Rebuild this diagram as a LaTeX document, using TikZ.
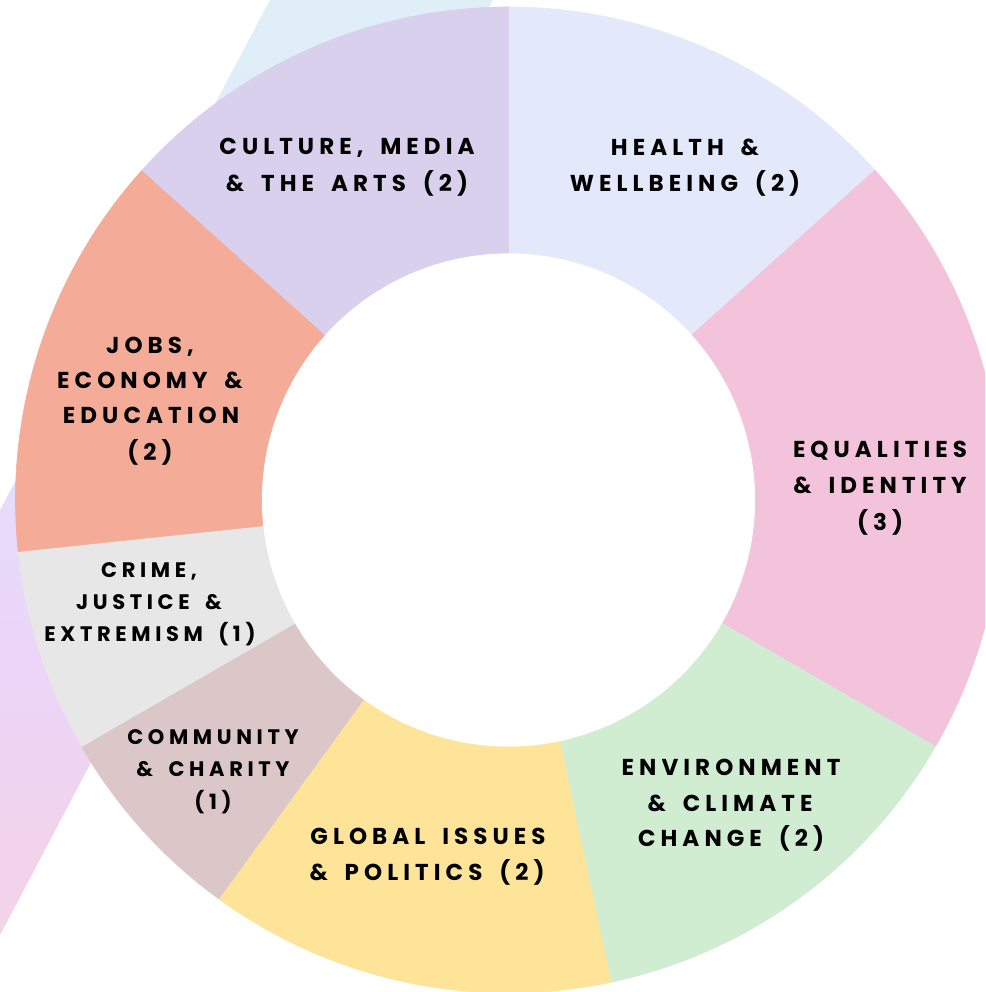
\documentclass[tikz,border=0pt]{standalone}
\usepackage{fontspec}
\newfontfamily\labfont[LetterSpace=22,WordSpace=1.7]{Poppins}
\usetikzlibrary{calc}
\definecolor{cCulture}{RGB}{217,208,238}
\definecolor{cHealth}{RGB}{227,233,251}
\definecolor{cEqual}{RGB}{243,195,219}
\definecolor{cEnv}{RGB}{208,236,209}
\definecolor{cGlobal}{RGB}{254,228,153}
\definecolor{cComm}{RGB}{220,199,200}
\definecolor{cCrime}{RGB}{231,231,231}
\definecolor{cJobs}{RGB}{244,171,152}
\definecolor{bandBlue}{RGB}{224,238,248}
\definecolor{bandBlueLav}{RGB}{230,221,250}
\definecolor{bandLav}{RGB}{236,213,248}
\definecolor{bandPink}{RGB}{242,211,234}
\pgfdeclareverticalshading{bandshade}{100bp}{color(0bp)=(bandPink); color(30bp)=(bandPink); color(42bp)=(bandLav); color(51bp)=(bandBlueLav); color(72bp)=(bandBlue); color(100bp)=(bandBlue)}
\newcommand\ringseg[3]{\fill[#1,draw=#1,line width=0.6pt] ($(ctr)+(#2:493)$) arc[start angle=#2,end angle=#3,radius=493] -- ($(ctr)+(#3:247)$) arc[start angle=#3,end angle=#2,radius=247] -- cycle;}
\begin{document}
\begin{tikzpicture}[x=1pt,y=1pt,
  biglab/.style={font=\labfont\bfseries\fontsize{23}{23}\selectfont, anchor=base, inner sep=0pt, text=black},
  smalllab/.style={font=\labfont\bfseries\fontsize{21}{21}\selectfont, anchor=base, inner sep=0pt, text=black}]
\useasboundingbox (0,0) rectangle (985,992);
\clip (0,0) rectangle (985,992);
\fill[white] (0,0) rectangle (985,992);
\coordinate (ctr) at (508.5,492);
% diagonal background band
\shade[shading=bandshade]
  (270,992) -- (493,992) -- (-30,0) -- (-255,0) -- cycle;
% ring segments
\ringseg{cHealth}{42}{90}
\ringseg{cEqual}{-30}{42}
\ringseg{cEnv}{-78}{-30}
\ringseg{cGlobal}{-126}{-78}
\ringseg{cComm}{-150}{-126}
\ringseg{cCrime}{-174}{-150}
\ringseg{cJobs}{-222}{-174}
\ringseg{cCulture}{90}{138}
% labels (baseline = 992 - (centre + 9))
\node[biglab] (cul1) at (347,837) {CULTURE, MEDIA};
\node[biglab] (cul2) at (347,800) {\& THE ARTS (2)};
\node[biglab] (hea1) at (685,836) {HEALTH \&};
\node[biglab] (hea2) at (685,800) {WELLBEING (2)};
\node[biglab] (job1) at (150,638) {JOBS,};
\node[biglab] (job2) at (150,603) {ECONOMY \&};
\node[biglab] (job3) at (151,568) {EDUCATION};
\node[biglab] (job4) at (150,531) {(2)};
\node[biglab] (equ1) at (880,534) {EQUALITIES};
\node[biglab] (equ2) at (880,498) {\& IDENTITY};
\node[biglab] (equ3) at (880,461) {(3)};
\node[smalllab] (cri1) at (149,414) {CRIME,};
\node[smalllab] (cri2) at (149,382) {JUSTICE \&};
\node[smalllab] (cri3) at (150,350) {EXTREMISM (1)};
\node[smalllab] (com1) at (213,247) {COMMUNITY};
\node[smalllab] (com2) at (213,215) {\& CHARITY};
\node[smalllab] (com3) at (213,182) {(1)};
\node[biglab] (glo1) at (428,147) {GLOBAL ISSUES};
\node[biglab] (glo2) at (427,111) {\& POLITICS (2)};
\node[biglab] (env1) at (731,216) {ENVIRONMENT};
\node[biglab] (env2) at (730,180) {\& CLIMATE};
\node[biglab] (env3) at (731,145) {CHANGE (2)};
\end{tikzpicture}
\end{document}
